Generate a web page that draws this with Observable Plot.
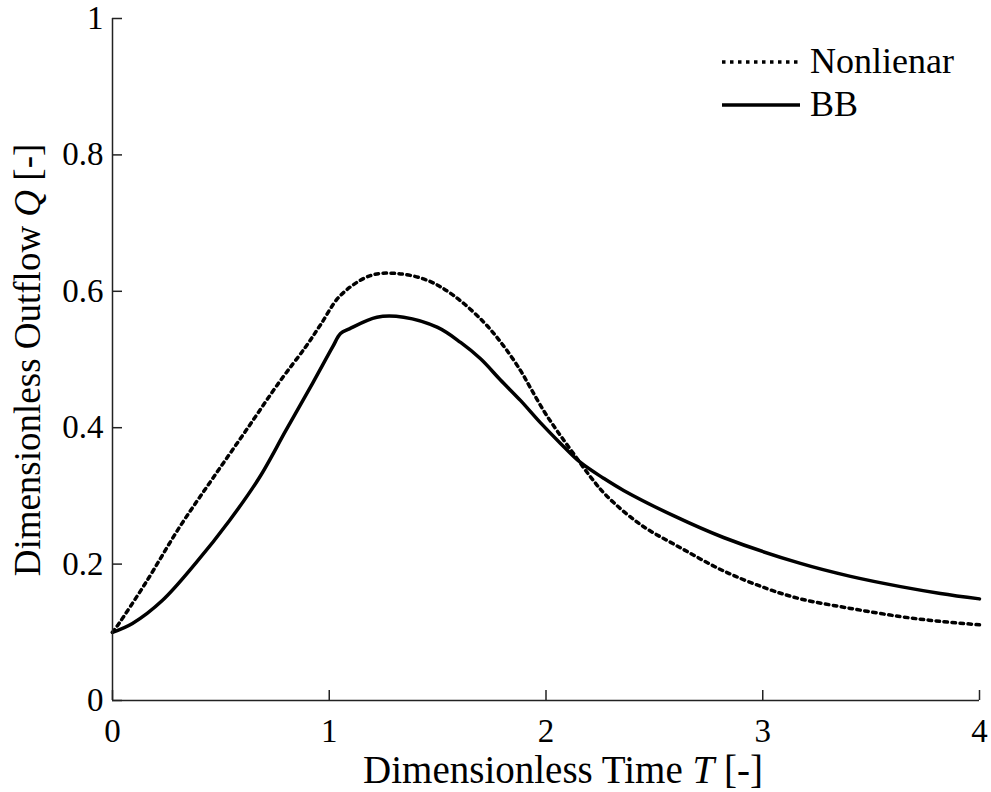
<!DOCTYPE html>
<html><head><meta charset="utf-8">
<script src="https://cdn.jsdelivr.net/npm/d3@7"></script>
<script src="https://cdn.jsdelivr.net/npm/@observablehq/plot@0.6"></script>
<style>
body{margin:0;background:#fff;}
#wrap{position:relative;width:991px;height:792px;}
</style></head><body><div id="wrap"></div>
<script>
// Nonlinear model (dotted)
const timeNonlinear = [0, 0.03, 0.152, 0.309, 0.461, 0.614, 0.77, 0.89, 0.96, 1.052, 1.19, 1.315, 1.453, 1.573, 1.712, 1.804, 1.882, 1.929, 1.989, 2.05, 2.127, 2.205, 2.28, 2.436, 2.62, 2.819, 3.02, 3.174, 3.405, 3.636, 3.82, 4.0];
const outflowNonlinear = [0.1, 0.113, 0.172, 0.254, 0.325, 0.395, 0.467, 0.518, 0.551, 0.594, 0.623, 0.626, 0.616, 0.594, 0.555, 0.520, 0.484, 0.458, 0.425, 0.396, 0.362, 0.328, 0.300, 0.258, 0.224, 0.19, 0.164, 0.149, 0.135, 0.123, 0.116, 0.111];
// BB model (solid)
const timeBB = [0, 0.092, 0.231, 0.383, 0.54, 0.678, 0.80, 0.923, 1.015, 1.052, 1.093, 1.22, 1.343, 1.5, 1.606, 1.698, 1.79, 1.882, 1.975, 2.067, 2.159, 2.265, 2.358, 2.588, 2.819, 3.174, 3.405, 3.636, 3.82, 4.0];
const outflowBB = [0.1, 0.113, 0.147, 0.201, 0.264, 0.327, 0.396, 0.465, 0.518, 0.538, 0.545, 0.562, 0.562, 0.547, 0.525, 0.501, 0.470, 0.44, 0.407, 0.377, 0.349, 0.326, 0.308, 0.271, 0.239, 0.201, 0.182, 0.167, 0.157, 0.149];

const xTicks = [0, 1, 2, 3, 4];
const yTicks = [0, 0.2, 0.4, 0.6, 0.8, 1];
const seriesNames = ["Nonlienar", "BB"];

const nl = timeNonlinear.map((t, i) => ({t, q: outflowNonlinear[i]}));
const bb = timeBB.map((t, i) => ({t, q: outflowBB[i]}));

const FONT = "'Liberation Serif', 'Times New Roman', Times, 'DejaVu Serif', serif";
const W = 991, H = 792, ML = 112, MR = 12, MT = 18, MB = 92;
const frameW = W - ML - MR, frameH = H - MT - MB;
const TICK = 10;
const DOT = "3.5,4.5";

const chart = Plot.plot({
  width: W, height: H,
  marginLeft: ML, marginRight: MR, marginTop: MT, marginBottom: MB,
  style: {fontFamily: FONT, fontSize: "33px", background: "#fff", color: "#000"},
  x: {domain: [0, 4]},
  y: {domain: [0, 1]},
  marks: [
    Plot.line(nl, {x: "t", y: "q", stroke: "#000", strokeWidth: 3.5, strokeDasharray: DOT, curve: "catmull-rom"}),
    Plot.line(bb, {x: "t", y: "q", stroke: "#000", strokeWidth: 3.5, curve: "catmull-rom"}),
    Plot.ruleX([0], {stroke: "#222", strokeWidth: 1.5}),
    Plot.ruleY([0], {stroke: "#222", strokeWidth: 1.5}),
    Plot.tickX(xTicks, {x: d => d, stroke: "#222", strokeWidth: 1.5, insetTop: frameH - TICK}),
    Plot.tickY(yTicks, {y: d => d, stroke: "#222", strokeWidth: 1.5, insetRight: frameW - TICK}),
    Plot.axisX({ticks: xTicks, tickSize: 0, tickPadding: 18, label: null, tickFormat: d => String(d), fontSize: 33}),
    Plot.axisY({ticks: yTicks, tickSize: 0, tickPadding: 9, label: null, tickFormat: d => String(d), fontSize: 33})
  ]
});
document.getElementById("wrap").append(chart);

const svg = d3.select(chart);
// x-axis title
const xt = svg.append("text")
  .attr("x", 563).attr("y", 783)
  .attr("text-anchor", "middle")
  .style("font-family", FONT).attr("font-size", 39).attr("fill", "#000");
xt.append("tspan").text("Dimensionless Time ");
xt.append("tspan").attr("font-style", "italic").text("T");
xt.append("tspan").text(" [-]");
// y-axis title
const yt = svg.append("text")
  .attr("transform", "translate(40,360) rotate(-90)")
  .attr("text-anchor", "middle")
  .style("font-family", FONT).attr("font-size", 37).attr("fill", "#000");
yt.append("tspan").text("Dimensionless Outflow ");
yt.append("tspan").attr("font-style", "italic").text("Q");
yt.append("tspan").text(" [-]");

// legend
const dashes = [DOT, null];
const lg = svg.append("g");
seriesNames.forEach((name, i) => {
  const cy = 62 + i * 43;
  lg.append("line").attr("x1", 722).attr("x2", 800).attr("y1", cy).attr("y2", cy)
    .attr("stroke", "#000").attr("stroke-width", 3.5)
    .attr("stroke-dasharray", dashes[i]);
  lg.append("text").attr("x", 810).attr("y", cy + 11)
    .attr("text-anchor", "start")
    .style("font-family", FONT).attr("font-size", 36).attr("fill", "#000").text(name);
});
</script>
</body></html>
